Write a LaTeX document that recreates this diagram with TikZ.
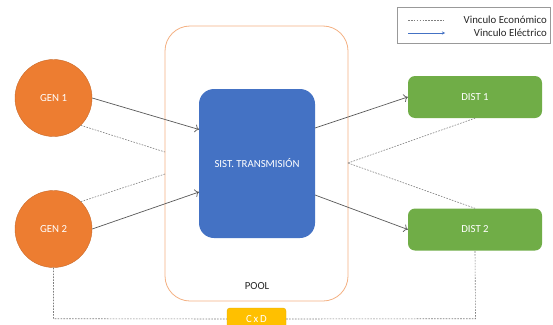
\documentclass[tikz,border=0pt]{standalone}
\usepackage{fontspec}
\setmainfont{Carlito}
\usetikzlibrary{arrows.meta}
\definecolor{genor}{HTML}{ED7D31}
\definecolor{sistbl}{HTML}{4472C4}
\definecolor{distgr}{HTML}{70AD47}
\definecolor{cxdyel}{HTML}{FFC000}
\definecolor{poolpe}{HTML}{F4B183}
\definecolor{arrgr}{HTML}{595959}
\definecolor{dashgr}{HTML}{7F7F7F}
\tikzset{
  txt/.style={font=\fontsize{10.8}{13}\selectfont},
  gen/.style={circle, fill=genor, draw=genor!85!black, line width=0.4pt, minimum size=77pt, inner sep=0pt, text=white, txt},
  dist/.style={rectangle, rounded corners=7pt, fill=distgr, minimum width=134pt, minimum height=42pt, inner sep=0pt, text=white, txt},
  elec/.style={draw=arrgr, line width=0.7pt, -{To[length=4pt,width=8pt]}},
  econ/.style={draw=dashgr, line width=0.6pt, dash pattern=on 1.6pt off 1.3pt},
}
\begin{document}
\begin{tikzpicture}[x=1pt,y=-1pt]
\useasboundingbox (0,0) rectangle (553,324);
\fill[white] (0,0) rectangle (553,324);
% pool
\node[draw=poolpe, line width=0.8pt, rounded corners=25pt, minimum width=183pt, minimum height=275pt, inner sep=0pt] (pool) at (256.5,163.5) {};
\node[txt, text=black!85] (pooltxt) at (257,286) {POOL};
% transmission
\node[rectangle, rounded corners=15pt, fill=sistbl, minimum width=116pt, minimum height=149pt, inner sep=0pt, text=white, txt] (sist) at (257,163.5) {SIST. TRANSMISIÓN};
% generators
\node[gen] (g1) at (53.5,98) {GEN 1};
\node[gen] (g2) at (53.5,229) {GEN 2};
% distributors
\node[dist] (d1) at (475,97) {DIST 1};
\node[dist] (d2) at (475,229.5) {DIST 2};
% C x D
\node[rectangle, rounded corners=3pt, fill=cxdyel, draw=cxdyel!90!black, line width=0.4pt, minimum width=59pt, minimum height=22pt, inner sep=0pt, text=white, txt] (cxd) at (256.5,319) {C\,x\,D};
% ports
\coordinate (s1) at (199,129.5);
\coordinate (s2) at (199,192);
\coordinate (s3) at (315,128);
\coordinate (s4) at (315,195);
\coordinate (pl1) at (165,152);
\coordinate (pl2) at (165,174);
\coordinate (pr) at (348,163);
\coordinate (bl) at (53.5,318.7);
\coordinate (br) at (475.5,318.7);
% electrical links
\draw[elec] (g1.east) -- (s1);
\draw[elec] (g2.east) -- (s2);
\draw[elec] (s3) -- (d1.west);
\draw[elec] (s4) -- (d2.west);
% economic links
\draw[econ] (g1.south east) -- (pl1);
\draw[econ] (g2.north east) -- (pl2);
\draw[econ] (pr) -- (d1.south);
\draw[econ] (pr) -- (d2.north);
\draw[econ] (g2.south) -- (bl) -- (cxd.west);
\draw[econ] (cxd.east) -- (br) -- (d2.south);
% legend
\node[draw=black!40, line width=0.5pt, minimum width=153pt, minimum height=35.5pt, inner sep=0pt] (leg) at (473.5,25) {};
\coordinate (la1) at (408,20);
\coordinate (la2) at (445,20);
\coordinate (lb1) at (408,33);
\coordinate (lb2) at (445,33);
\draw[econ] (la1) -- (la2);
\draw[draw=sistbl, line width=0.6pt, -{Stealth[length=3pt,width=3pt]}] (lb1) -- (lb2);
\node[txt, anchor=east, text=black!85, inner sep=0pt] (lt1) at (547,20) {Vinculo Económico};
\node[txt, anchor=east, text=black!85, inner sep=0pt] (lt2) at (547,33) {Vinculo Eléctrico};
\end{tikzpicture}
\end{document}
